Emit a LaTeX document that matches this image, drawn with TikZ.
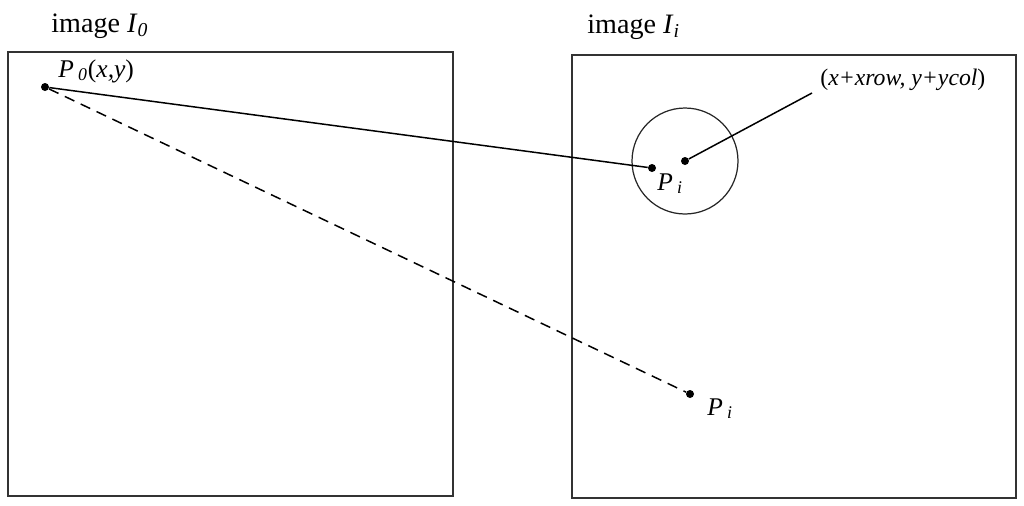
\documentclass[tikz,border=0pt]{standalone}
\usepackage{fontspec}
\setmainfont{Liberation Serif}
\usetikzlibrary{calc,positioning}

\begin{document}
\begin{tikzpicture}[x=0.02cm,y=-0.02cm,every node/.style={font=\fontsize{14.5}{16}\selectfont},
  dot/.style={circle,fill=black,inner sep=0pt,minimum size=0.16cm},
  frame/.style={rectangle,draw=black!80,line width=1.1pt,inner sep=0pt},
  lbl/.style={inner sep=0pt}]
     \useasboundingbox (0,0) rectangle (1024,505);
     % the two images
     \node at (230.5,274)[frame,minimum width=8.9cm,minimum height=8.88cm](img0){};
     \node at (794,276.5)[frame,minimum width=8.88cm,minimum height=8.86cm](imgi){};
     \node at (51,32)[lbl,anchor=base west,font=\fontsize{16}{18}\selectfont](t0){image \textit{I}\textsubscript{\textit{0}}};
     \node at (587,33)[lbl,anchor=base west,font=\fontsize{16}{18}\selectfont](ti){image \textit{I}\textsubscript{\textit{i}}};
     % points
     \node at (45,87)[dot](p0){};
     \node at (652,168)[dot](pi){};
     \node at (685,161)[dot](ctr){};
     \node at (690,394)[dot](pj){};
     \node at (ctr)[circle,draw=black!85,line width=0.7pt,minimum size=2.12cm](win){};
     \coordinate (tip) at (812,93);
     \node at (58,77)[lbl,anchor=base west](p0lbl){\textit{P}\,\textsubscript{\textit{0}}(\textit{x,y})};
     \node at (657,190)[lbl,anchor=base west](pilbl){\textit{P}\,\textsubscript{\textit{i}}};
     \node at (707,415)[lbl,anchor=base west](pjlbl){\textit{P}\,\textsubscript{\textit{i}}};
     \node at (820,85)[lbl,anchor=base west,font=\fontsize{13.5}{15}\selectfont](ctrlbl){(\textit{x+xrow, y+ycol})};
     \path[line width=0.85pt](p0)edge(pi);
     \path[line width=0.85pt,dash pattern=on 6pt off 4pt](p0)edge(pj);
     \path[line width=0.85pt](ctr)edge(tip);
\end{tikzpicture}
\end{document}
